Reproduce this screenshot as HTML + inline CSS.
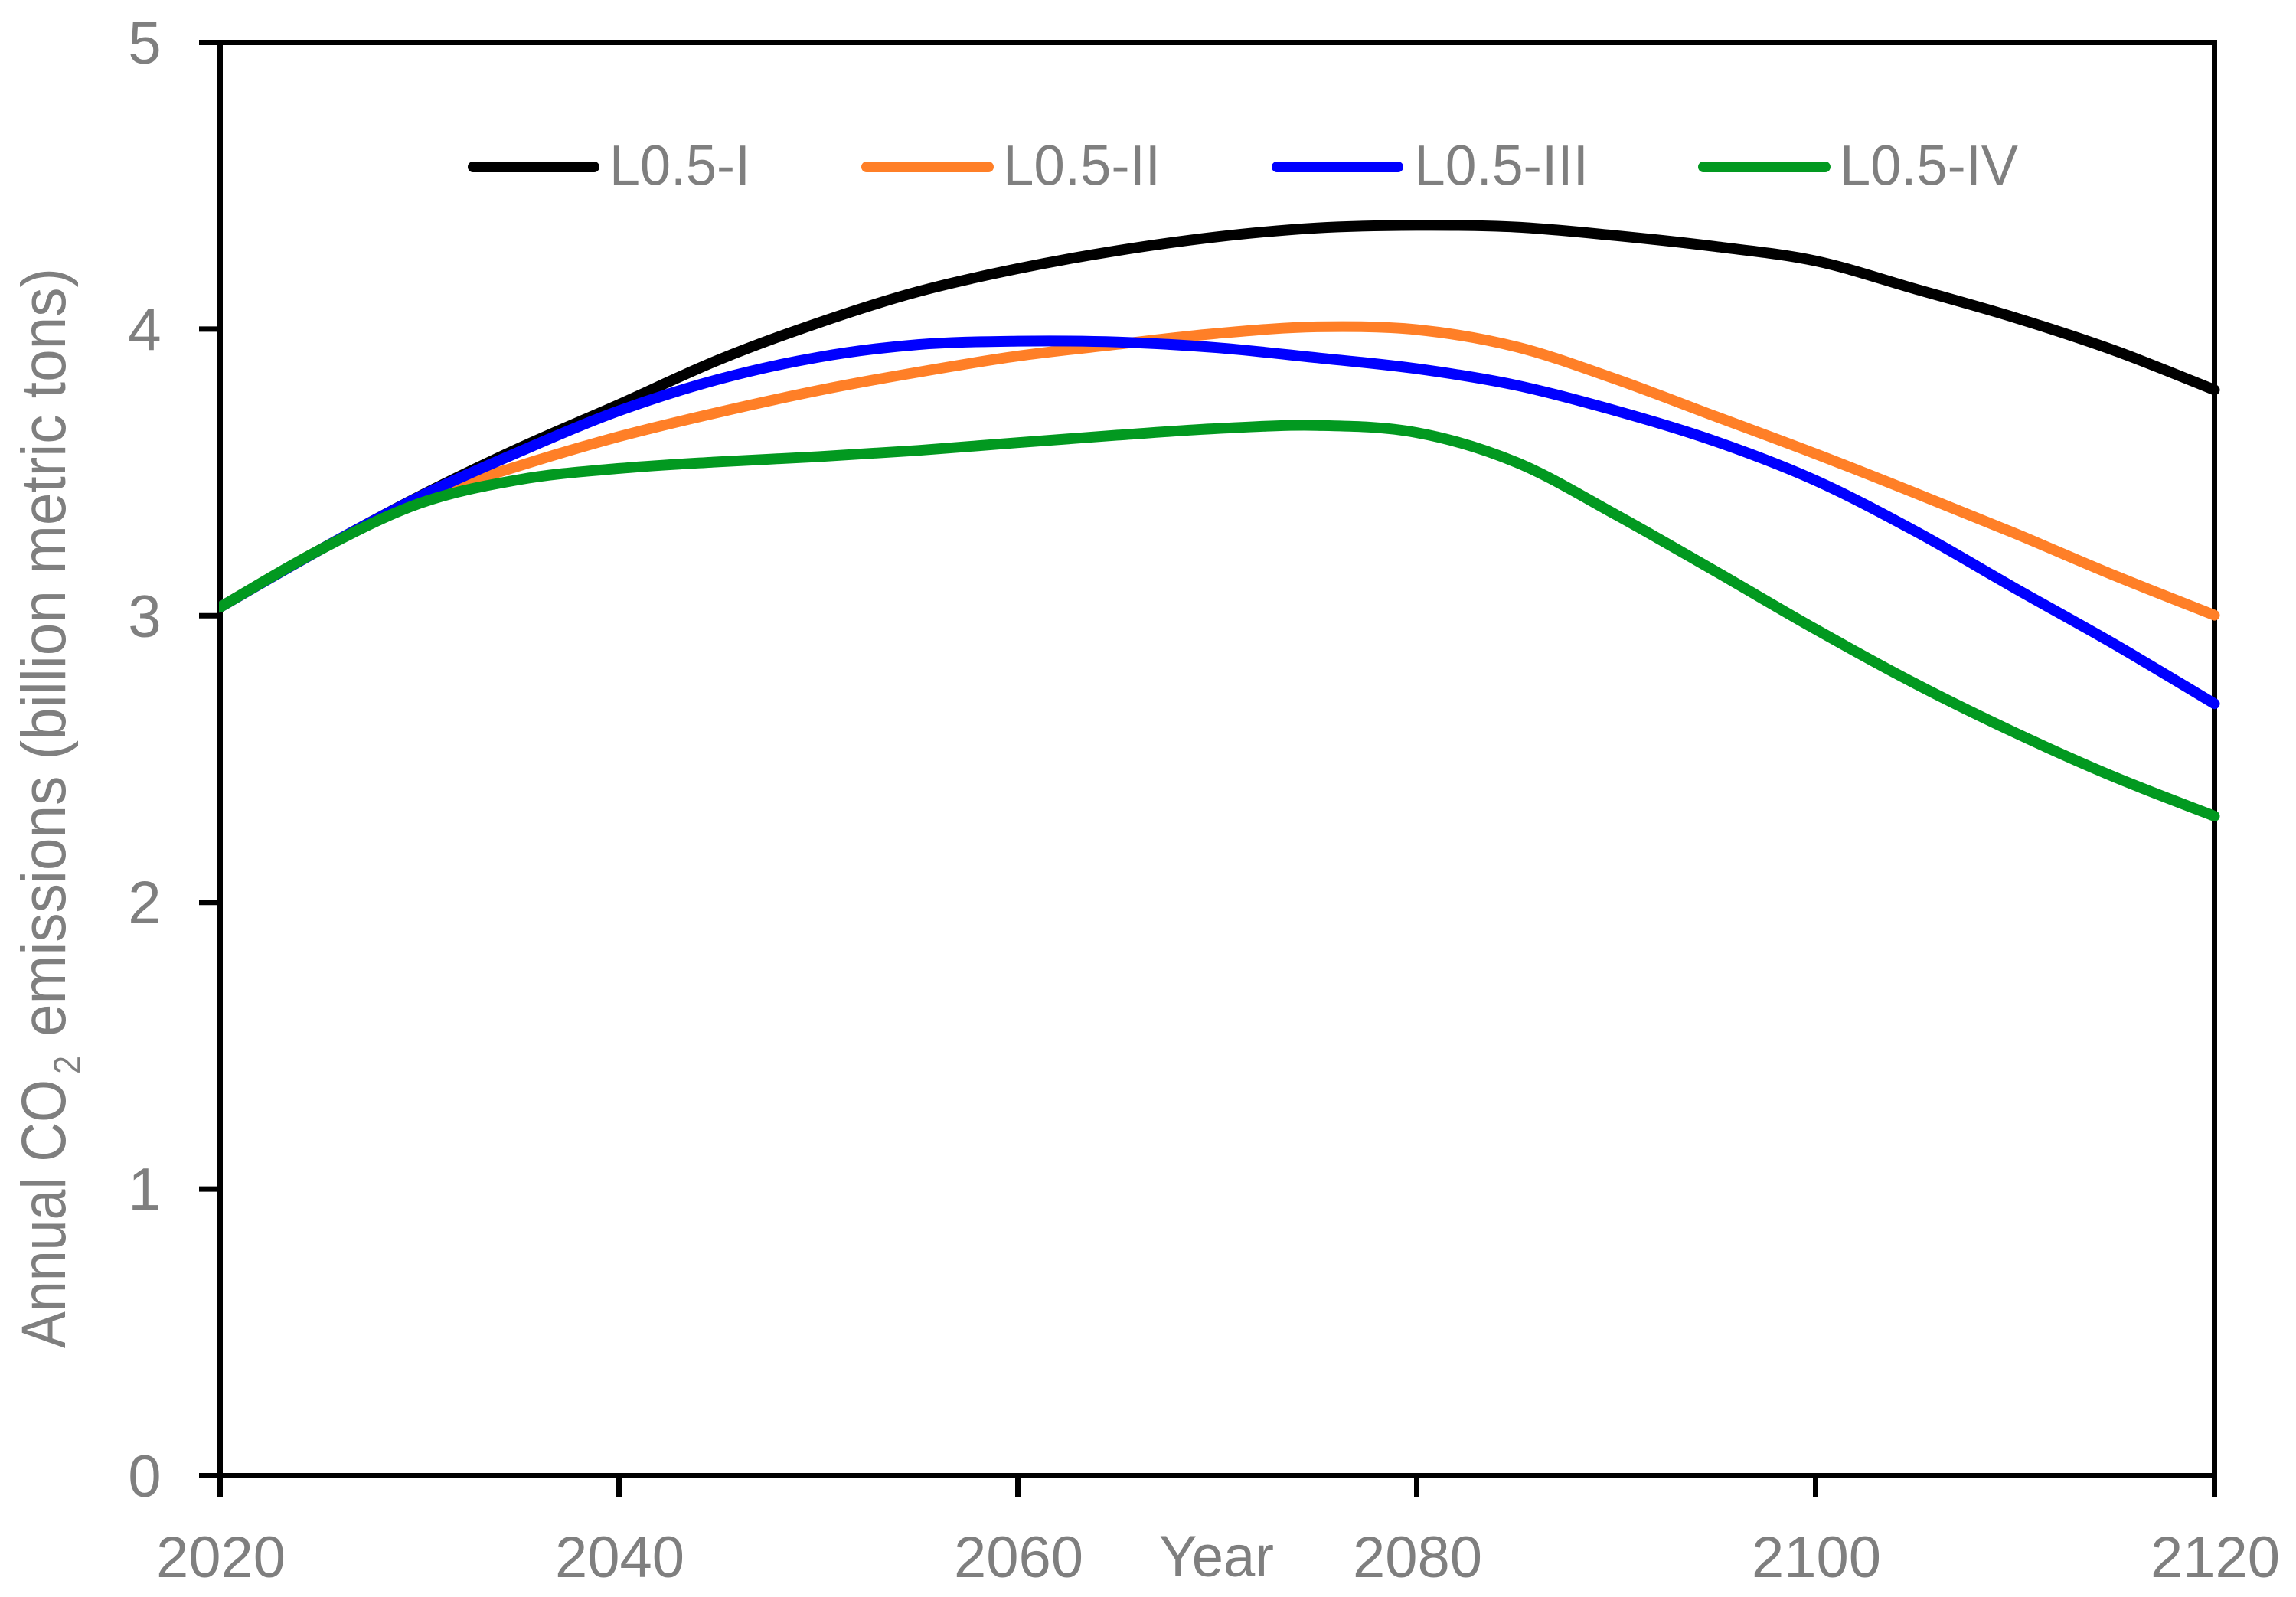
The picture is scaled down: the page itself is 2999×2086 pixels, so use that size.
<!DOCTYPE html>
<html lang="en">
<head>
<meta charset="utf-8">
<title>Annual CO2 emissions</title>
<style>
html,body{margin:0;padding:0;background:#fff;}
svg{display:block;}
text{font-family:"Liberation Sans",sans-serif;fill:#7f7f7f;}
</style>
</head>
<body>
<svg id="chart" xmlns="http://www.w3.org/2000/svg" width="2999" height="2086" viewBox="0 0 2999 2086">
  <defs>
    <clipPath id="line-clip"><rect x="286" y="0" width="2713" height="2086"></rect></clipPath>
  </defs>
  <rect x="0" y="0" width="2999" height="2086" fill="#fff"></rect>
  <rect x="287.5" y="55.5" width="2605" height="1872" fill="none" stroke="#000" stroke-width="7"></rect>
  <g id="y-ticks"></g>
  <g id="x-ticks"></g>
  <g id="series" clip-path="url(#line-clip)"></g>
  <g id="legend"></g>
  <text x="1589" y="2059" font-size="76" text-anchor="middle" textLength="150" lengthAdjust="spacingAndGlyphs">Year</text>
  <g>
    <text transform="translate(85 1761) rotate(-90)" font-size="82" textLength="351" lengthAdjust="spacingAndGlyphs">Annual CO</text>
    <text transform="translate(105 1403) rotate(-90)" font-size="50" textLength="24" lengthAdjust="spacingAndGlyphs">2</text>
    <text transform="translate(85 1354) rotate(-90)" font-size="82" textLength="1004" lengthAdjust="spacingAndGlyphs">emissions (billion metric tons)</text>
  </g>
</svg>
<script>
const years = [2020,2025,2030,2035,2040,2045,2050,2055,2060,2065,2070,2075,2080,2085,2090,2095,2100,2105,2110,2115,2120];
const l05i   = [3.03,3.23,3.417,3.585,3.737,3.893,4.022,4.131,4.211,4.274,4.322,4.353,4.362,4.356,4.326,4.288,4.238,4.140,4.04,3.925,3.788];
const l05ii  = [3.03,3.23,3.405,3.523,3.625,3.71,3.786,3.85,3.906,3.947,3.985,4.008,3.998,3.938,3.825,3.695,3.565,3.428,3.287,3.14,3.002];
const l05iii = [3.03,3.23,3.415,3.572,3.715,3.825,3.902,3.946,3.958,3.955,3.935,3.90,3.862,3.804,3.715,3.608,3.472,3.295,3.096,2.90,2.693];
const l05iv  = [3.03,3.23,3.392,3.475,3.514,3.537,3.555,3.577,3.604,3.63,3.653,3.664,3.639,3.535,3.352,3.154,2.953,2.763,2.592,2.437,2.301];
const xTickValues = [2020,2040,2060,2080,2100,2120];
const yTickValues = [0,1,2,3,4,5];

const NS = 'http://www.w3.org/2000/svg';
function xScale(year){ return 287.5 + (year - 2020) * (2605 / 100); }
function yScale(v){ return 1927.5 - v * (1872 / 5); }
function make(tag, attrs){
  const el = document.createElementNS(NS, tag);
  for (const k in attrs) el.setAttribute(k, attrs[k]);
  return el;
}

const yGroup = document.getElementById('y-ticks');
yTickValues.forEach(function(v){
  const t = make('line', {x1:260, x2:288, y1:yScale(v), y2:yScale(v), stroke:'#000', 'stroke-width':7});
  
  
  yGroup.appendChild(t);
  const l = make('text', {x:189, y:yScale(v)+27, 'font-size':78, 'text-anchor':'middle'});
  
  
  l.textContent = String(v);
  yGroup.appendChild(l);
});

const xGroup = document.getElementById('x-ticks');
xTickValues.forEach(function(y){
  const t = make('line', {x1:xScale(y), x2:xScale(y), y1:1927, y2:1955, stroke:'#000', 'stroke-width':7});
  
  
  xGroup.appendChild(t);
  const l = make('text', {x:xScale(y)+1, y:2060, 'font-size':76, 'text-anchor':'middle'});
  
  
  l.textContent = String(y);
  xGroup.appendChild(l);
});

const seriesGroup = document.getElementById('series');
function smoothPath(values){
  const pts = values.map(function(v, i){ return [xScale(years[i]), yScale(v)]; });
  let d = 'M' + pts[0][0].toFixed(1) + ' ' + pts[0][1].toFixed(1);
  for (let i = 0; i < pts.length - 1; i++){
    const p0 = pts[Math.max(i - 1, 0)];
    const p1 = pts[i];
    const p2 = pts[i + 1];
    const p3 = pts[Math.min(i + 2, pts.length - 1)];
    const c1x = p1[0] + (p2[0] - p0[0]) / 6;
    const c1y = p1[1] + (p2[1] - p0[1]) / 6;
    const c2x = p2[0] - (p3[0] - p1[0]) / 6;
    const c2y = p2[1] - (p3[1] - p1[1]) / 6;
    d += ' C' + c1x.toFixed(1) + ' ' + c1y.toFixed(1) + ' ' + c2x.toFixed(1) + ' ' + c2y.toFixed(1) + ' ' + p2[0].toFixed(1) + ' ' + p2[1].toFixed(1);
  }
  return d;
}
function drawSeries(values, color, name){
  const p = make('path', {d:smoothPath(values), fill:'none', stroke:color, 'stroke-width':14, 'stroke-linejoin':'round', 'stroke-linecap':'round'});
  
  
  seriesGroup.appendChild(p);
}
drawSeries(l05i, '#000000', 'line-l0-5-i');
drawSeries(l05ii, '#ff7f27', 'line-l0-5-ii');
drawSeries(l05iii, '#0000ff', 'line-l0-5-iii');
drawSeries(l05iv, '#029920', 'line-l0-5-iv');

const legendGroup = document.getElementById('legend');
function drawLegend(x1, x2, tx, tw, color, label){
  const s = make('line', {x1:x1+7, x2:x2-7, y1:218, y2:218, stroke:color, 'stroke-width':14, 'stroke-linecap':'round'});
  
  
  legendGroup.appendChild(s);
  const t = make('text', {x:tx, y:241.5, 'font-size':74, textLength:tw, lengthAdjust:'spacingAndGlyphs'});
  
  
  t.textContent = label;
  legendGroup.appendChild(t);
}
drawLegend(611, 783, 796, 184, '#000000', 'L0.5-I');
drawLegend(1125, 1298, 1310, 206, '#ff7f27', 'L0.5-II');
drawLegend(1661, 1833, 1847, 228, '#0000ff', 'L0.5-III');
drawLegend(2218, 2391, 2403, 233, '#029920', 'L0.5-IV');
</script>
</body>
</html>
